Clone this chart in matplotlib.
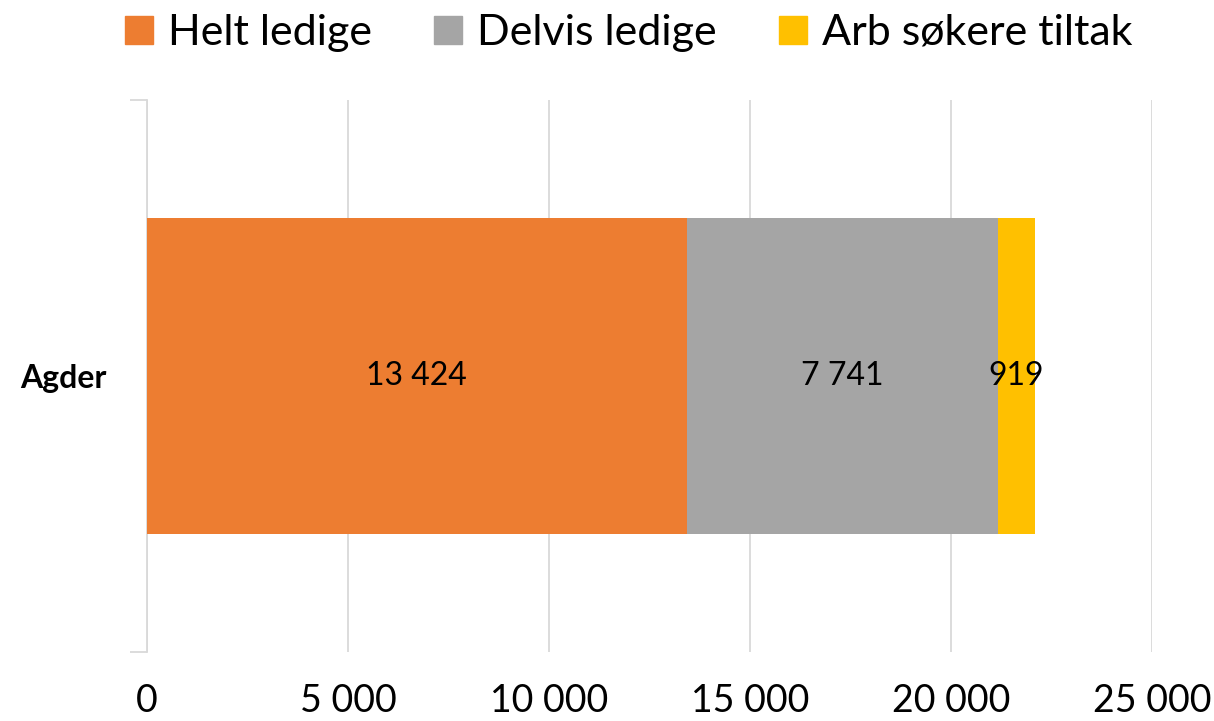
import matplotlib.pyplot as plt
from matplotlib.patches import Patch

# Data
region = ["Agder"]
series = ["Helt ledige", "Delvis ledige", "Arb søkere tiltak"]
values = [13424, 7741, 919]
colors = ["#ED7D31", "#A5A5A5", "#FFC000"]
xticks = [0, 5000, 10000, 15000, 20000, 25000]


def fmt(v):
    return f"{v:,}".replace(",", " ")


plt.rcParams['font.family'] = ['Lato', 'DejaVu Sans']

fig = plt.figure(figsize=(12.14, 7.21), dpi=100)
ax = fig.add_axes([147 / 1214, 1 - 652 / 721, 1005 / 1214, 552 / 721])

left = 0
for name, v, c in zip(series, values, colors):
    ax.barh(0, v, left=left, height=0.571, color=c, zorder=3)
    ax.text(left + v / 2, 0, fmt(v), ha="center", va="center", fontsize=23, color="black", zorder=4)
    left += v

ax.set_xlim(0, 25000)
ax.set_ylim(-0.5, 0.5)
ax.set_xticks(xticks)
ax.set_xticklabels([fmt(t) for t in xticks], fontsize=27)
ax.tick_params(axis="x", length=0, pad=22)
ax.grid(axis="x", color="#D9D9D9", linewidth=1.3, zorder=0)

ax.set_yticks([-0.5, 0, 0.5])
ax.set_yticklabels(["", region[0], ""], fontsize=23, fontweight="bold")
ax.tick_params(axis="y", length=12, width=1.3, color="#D9D9D9", pad=17)
ax.get_yticklines()[2].set_visible(False)
ax.get_yticklines()[3].set_visible(False)

for s in ["top", "right", "bottom"]:
    ax.spines[s].set_visible(False)
ax.spines["left"].set_color("#D9D9D9")
ax.spines["left"].set_linewidth(1.3)

handles = [Patch(color=c, label=n) for n, c in zip(series, colors)]
fig.legend(handles=handles, loc="center", bbox_to_anchor=(0.518, 1 - 33 / 721), ncol=3,
           frameon=False, fontsize=31, handlelength=0.65, handleheight=0.65,
           handletextpad=0.35, columnspacing=1.45)

fig.savefig("out.png", dpi=100)
